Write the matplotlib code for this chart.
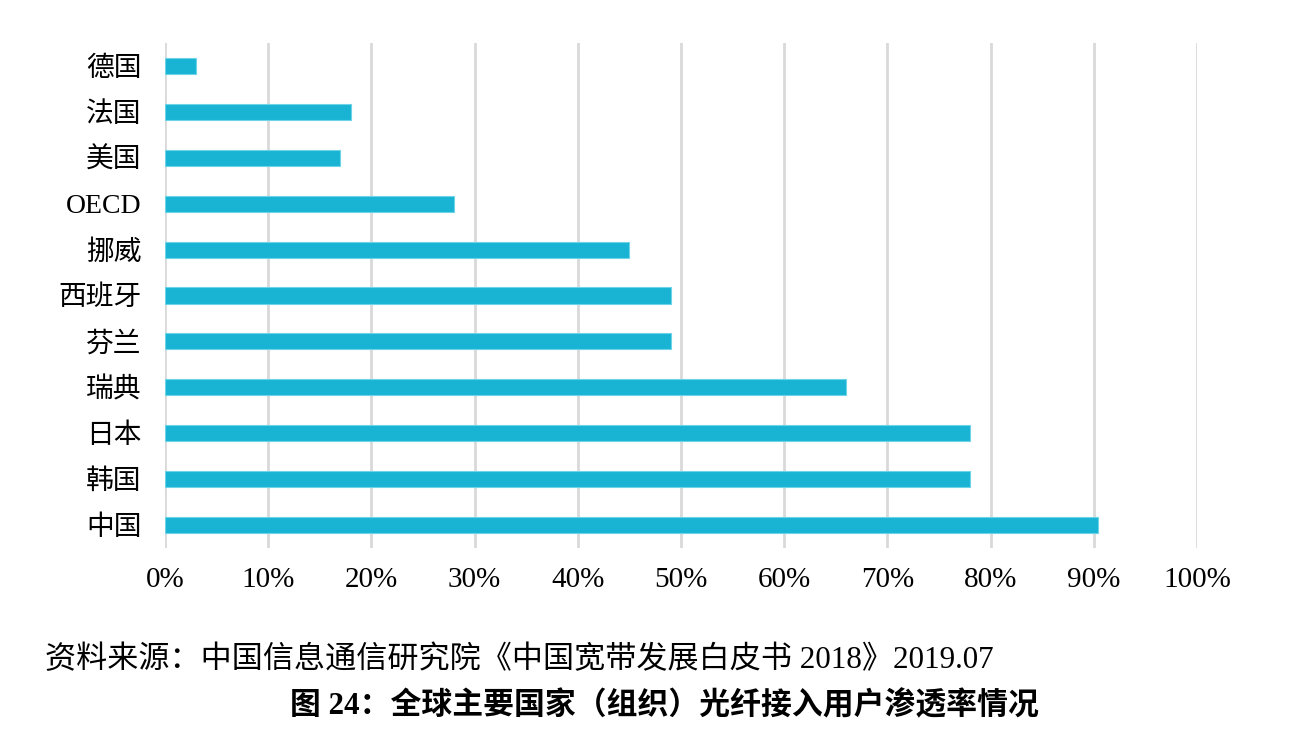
import matplotlib
matplotlib.use('Agg')
import matplotlib.pyplot as plt
from matplotlib.ticker import FuncFormatter

plt.rcParams['font.family'] = ['Liberation Serif', 'Noto Sans CJK SC']

countries = ['中国', '韩国', '日本', '瑞典', '芬兰', '西班牙', '挪威', 'OECD', '美国', '法国', '德国']
rates = [90.4, 78, 78, 66, 49, 49, 45, 28, 17, 18, 3]
xticks = [0, 10, 20, 30, 40, 50, 60, 70, 80, 90, 100]

source_text = '资料来源：中国信息通信研究院《中国宽带发展白皮书 2018》2019.07'
title_text = '图 24：全球主要国家（组织）光纤接入用户渗透率情况'

fig = plt.figure(figsize=(12.91, 7.33), dpi=100)
ax = fig.add_axes([165 / 1291, 1 - 548 / 733, (1197 - 165) / 1291, (548 - 43) / 733])

ax.barh(range(len(countries)), rates, height=0.35, color='#19b4d4',
        edgecolor='#6fd3e8', linewidth=0.8, zorder=3)

ax.set_xlim(0, 100)
ax.set_ylim(-0.5, len(countries) - 0.5)
ax.set_xticks(xticks)
ax.xaxis.set_major_formatter(FuncFormatter(lambda v, p: f'{v:.0f}%'))
ax.set_yticks(range(len(countries)))
ax.set_yticklabels(countries)
ax.grid(axis='x', color='#d9d9d9', linewidth=2, zorder=0)
for s in ax.spines.values():
    s.set_visible(False)
ax.tick_params(axis='both', length=0, labelcolor='black')
ax.tick_params(axis='x', pad=14, labelsize=21)
ax.tick_params(axis='y', pad=17, labelsize=20)

fig.text(45 / 1291, 1 - 660 / 733, source_text, fontsize=22.4, va='center', ha='left')
fig.text(664 / 1291, 1 - 706 / 733, title_text, fontsize=22.2, fontweight='bold',
         va='center', ha='center')

fig.savefig('out.png', dpi=100)
